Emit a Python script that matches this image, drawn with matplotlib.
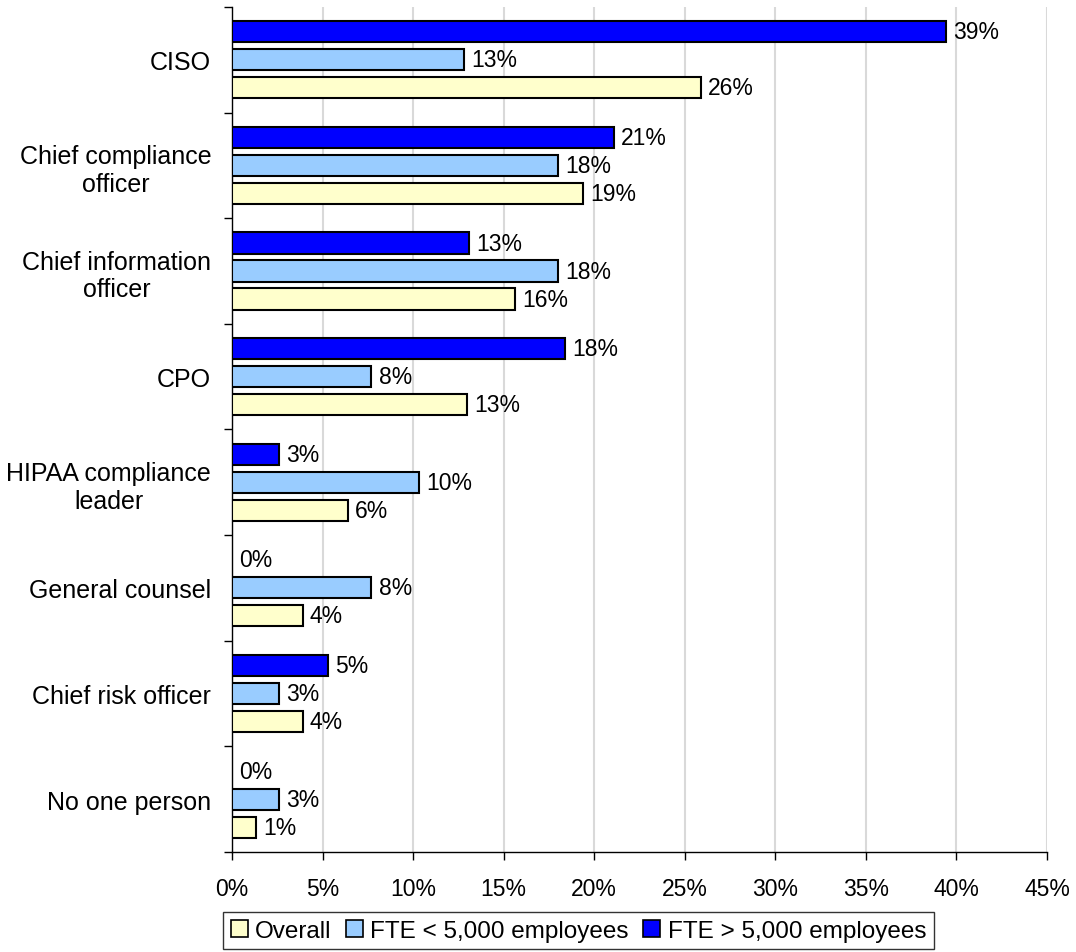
import matplotlib
matplotlib.use("Agg")
import matplotlib.pyplot as plt
from matplotlib.patches import Patch

# Survey data: who owns the role, share of respondents (%)
categories = [
    "CISO",
    "Chief compliance\nofficer",
    "Chief information\nofficer",
    "CPO",
    "HIPAA compliance\nleader",
    "General counsel",
    "Chief risk officer",
    "No one person",
]
fte_large = [39.4, 21.1, 13.1, 18.4, 2.6, 0.0, 5.3, 0.0]    # FTE > 5,000 employees
fte_small = [12.8, 18.0, 18.0, 7.7, 10.3, 7.7, 2.6, 2.6]    # FTE < 5,000 employees
overall = [25.9, 19.4, 15.6, 13.0, 6.4, 3.9, 3.9, 1.3]
x_ticks = [0, 5, 10, 15, 20, 25, 30, 35, 40, 45]

series = [
    ("FTE > 5,000 employees", fte_large, "#0000FF", -0.265),
    ("FTE < 5,000 employees", fte_small, "#99CCFF", 0.0),
    ("Overall", overall, "#FFFFCC", 0.265),
]

font = ["Liberation Sans", "DejaVu Sans"]

fig = plt.figure(figsize=(10.76, 9.53), dpi=100)
ax = fig.add_axes([0.2156, 0.105, 0.7574, 0.8866])

ypos = list(range(len(categories)))
for name, vals, color, off in series:
    ys = [y + off for y in ypos]
    lws = [1.5 if v > 0 else 0 for v in vals]
    ax.barh(ys, vals, height=0.2, color=color, edgecolor="black",
            linewidth=lws, zorder=3)
    for y, v in zip(ys, vals):
        ax.text(v + 0.4, y, f"{v:.0f}%", va="center", ha="left",
                fontsize=16.5, family=font, zorder=4)

ax.set_xlim(0, 45)
ax.set_ylim(len(categories) - 0.5, -0.5)

ax.set_xticks(x_ticks)
ax.set_xticklabels([f"{t}%" for t in x_ticks], family=font, fontsize=16.5)
ax.tick_params(axis="x", direction="out", length=6, width=1, pad=12)

# boundaries between groups get tick marks, names sit at group centres
ax.set_yticks([i - 0.5 for i in range(len(categories) + 1)])
ax.set_yticklabels([])
ax.tick_params(axis="y", which="major", direction="out", length=6, width=1)
ax.set_yticks(ypos, minor=True)
ax.set_yticklabels(categories, minor=True, family=font, fontsize=18,
                   multialignment="center")
ax.tick_params(axis="y", which="minor", length=0, pad=15)

ax.grid(axis="x", color="#d9d9d9", linewidth=1.5, zorder=0)
for side in ("top", "right"):
    ax.spines[side].set_visible(False)
for side in ("left", "bottom"):
    ax.spines[side].set_linewidth(1)
    ax.spines[side].set_color("black")

handles = [Patch(facecolor=c, edgecolor="black", linewidth=1.2, label=n)
           for n, _, c, _ in series[::-1]]
leg = fig.legend(handles=handles, loc="center", bbox_to_anchor=(0.5376, 0.0225),
                 ncol=3, frameon=True, fancybox=False, edgecolor="black",
                 prop={"family": font, "size": 17.5},
                 handlelength=0.7, handleheight=0.7, handletextpad=0.3,
                 columnspacing=0.6, borderpad=0.3, borderaxespad=0)
leg.get_frame().set_linewidth(1)

fig.savefig("out.png", dpi=100)
